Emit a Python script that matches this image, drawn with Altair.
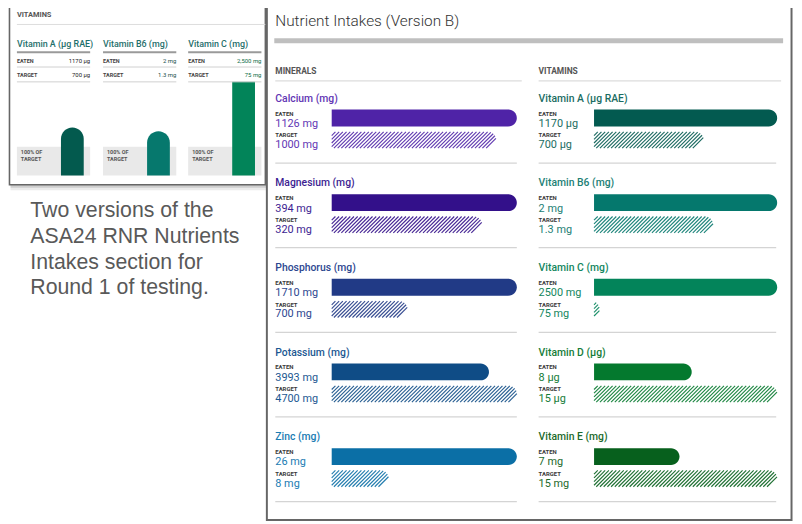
import math
import altair as alt
import pandas as pd

# ---------------- data ----------------
minerals = ["Calcium (mg)", "Magnesium (mg)", "Phosphorus (mg)", "Potassium (mg)", "Zinc (mg)"]
mineral_eaten = [1126, 394, 1710, 3993, 26]
mineral_target = [1000, 320, 700, 4700, 8]
mineral_units = ["mg", "mg", "mg", "mg", "mg"]

vitamins = ["Vitamin A (µg RAE)", "Vitamin B6 (mg)", "Vitamin C (mg)", "Vitamin D (µg)", "Vitamin E (mg)"]
vitamin_eaten = [1170, 2, 2500, 8, 7]
vitamin_target = [700, 1.3, 75, 15, 15]
vitamin_units = ["µg", "mg", "mg", "µg", "mg"]

# Version A inset (first three vitamins)
a_names = ["Vitamin A (µg RAE)", "Vitamin B6 (mg)", "Vitamin C (mg)"]
a_eaten = [1170, 2, 2500]
a_target = [700, 1.3, 75]
a_eaten_labels = ["1170 µg", "2 mg", "2,500 mg"]
a_target_labels = ["700 µg", "1.3 mg", "75 mg"]

caption_lines = ["Two versions of the", "ASA24 RNR Nutrients", "Intakes section for", "Round 1 of testing."]
panel_title = "Nutrient Intakes (Version B)"
section_titles = ["MINERALS", "VITAMINS"]

# ---------------- palettes ----------------
mineral_colors = ["#4f23a7", "#33108a", "#213a86", "#0f4c86", "#0b6fa6"]
mineral_text = ["#6236b4", "#3d1e92", "#2c468f", "#1c5892", "#1a7cb3"]
vitamin_colors = ["#035a50", "#05786d", "#03845a", "#04792e", "#07601d"]
vitamin_text = ["#1a6c62", "#1c8075", "#13865e", "#147c38", "#1c6a2b"]
a_colors = ["#035a4e", "#06786d", "#028459"]
a_value_colors = ["#222222", "#174f4a", "#0c6d47"]

# ---------------- layout (reference pixel space) ----------------
XS = alt.Scale(domain=[8, 802], nice=False, zero=False)
YS = alt.Scale(domain=[8, 524], nice=False, zero=False, reverse=True)
BX = 3    # horizontal offset of the Version B panel
BY = -1   # vertical offset of the Version B content

texts, rects, rules = [], [], []


def T(x, y, s, size, color, group):
    texts.append(dict(x=x, y=y, text=s, size=size, color=color, g=group))


def R(x, x2, y, y2, color, group="plain"):
    rects.append(dict(x=x, x2=x2, y=y, y2=y2, color=color, g=group))


def L(x, x2, y, y2, color, w):
    rules.append(dict(x=x, x2=x2, y=y, y2=y2, color=color, w=w))


# ---- Version A inset ----
A_LEFT, A_RIGHT, A_BOTTOM = 9.5, 268, 184
a_box = dict(x=A_LEFT, x2=A_RIGHT, y=0, y2=A_BOTTOM)
T(17, 14.5, "VITAMINS", 7.5, "#555555", "bold")
L(17, 268, 22, 22, "#dddddd", 1)
a_cols = [17, 104, 190]
a_colw = 74
PX_PER_100 = 29.0
BASE_A = 174.5
CLIP_A = 80
a_bars = []
for i, name in enumerate(a_names):
    cx = a_cols[i]
    T(cx, 44.5, name, 9, "#1f6f6b", "medium")
    L(cx, cx + a_colw, 50, 50, "#9a9a9a", 2)
    T(cx, 60.5, "EATEN", 5.5, "#444444", "bold")
    T(cx + a_colw, 60.5, a_eaten_labels[i], 6, a_value_colors[i], "right")
    L(cx, cx + a_colw, 65, 65, "#cfcfcf", 1)
    T(cx, 75, "TARGET", 5.5, "#444444", "bold")
    T(cx + a_colw, 75, a_target_labels[i], 6, a_value_colors[i], "right")
    L(cx, cx + a_colw, 80, 80, "#cfcfcf", 1)
    R(cx, cx + a_colw, 145.5, BASE_A, "#e9e9e9")
    T(cx + 4, 153, "100% OF", 5.5, "#555555", "bold")
    T(cx + 4, 160, "TARGET", 5.5, "#555555", "bold")
    top = BASE_A - PX_PER_100 * a_eaten[i] / a_target[i]
    clipped = top < CLIP_A
    a_bars.append(dict(x=cx + 44.5, x2=cx + 67.5, y=max(top, CLIP_A), y2=BASE_A,
                       color=a_colors[i], g="clip" if clipped else "round"))

# caption
for k, line in enumerate(caption_lines):
    T(30.5, 217 + 25.8 * k, line, 21.5, "#595959", "caption")

n_a_texts, n_a_rects, n_a_rules = len(texts), len(rects), len(rules)

# ---- Version B panel ----
b_box = dict(x=266.5 + BX, x2=799.5, y=0, y2=522.5)
T(275 + BX, 25 + BY, panel_title, 15.5, "#333333", "light")
R(274 + BX, 791, 37 + BY, 42 + BY, "#bfbfbf")
cols = [
    dict(tx=275 + BX, bx=332 + BX, bw=187, lx2=524 + BX, sx2=519 + BX, names=minerals, eaten=mineral_eaten,
         target=mineral_target, units=mineral_units, colors=mineral_colors, tcolors=mineral_text),
    dict(tx=541 + BX, bx=597 + BX, bw=185, lx2=789, sx2=784, names=vitamins, eaten=vitamin_eaten,
         target=vitamin_target, units=vitamin_units, colors=vitamin_colors, tcolors=vitamin_text),
]
ROW0, ROWSTEP = 97.5 + BY, 85.5
eaten_bars, hatch = [], []


def hatch_segments(x0, x1, ytop, ybot, color, step=3.75):
    h = ybot - ytop
    r = h / 2.0
    ccx, ccy = x1 - r, ytop + r
    s = -h
    while s < (x1 - x0):
        u0 = max(0.0, -s)
        u1 = min(h, x1 - x0 - s)
        # rounded right end
        a = x0 + s - ccx
        b = ybot - ccy
        A, B, C = 2.0, 2.0 * (a - b), a * a + b * b - r * r
        disc = B * B - 4 * A * C
        lim = -a
        if disc >= 0:
            uc0 = (-B - math.sqrt(disc)) / (2 * A)
            uc1 = (-B + math.sqrt(disc)) / (2 * A)
            if uc0 <= max(lim, u0):
                lim = max(lim, uc1)
        u1 = min(u1, lim)
        if u1 > u0 + 0.3:
            hatch.append(dict(x=x0 + s + u0, y=ybot - u0, x2=x0 + s + u1, y2=ybot - u1, color=color))
        s += step


for c, sec in zip(cols, section_titles):
    T(c["tx"], 73 + BY, sec, 8.5, "#555555", "bold")
    L(c["tx"], c["lx2"], 80 + BY, 80 + BY, "#dcdcdc", 1.2)
    for i, name in enumerate(c["names"]):
        t = ROW0 + ROWSTEP * i
        e, g = c["eaten"][i], c["target"][i]
        m = max(e, g)
        T(c["tx"], t + 3.5, name, 10.5, c["tcolors"][i], "medium")
        T(c["tx"], t + 17.5, "EATEN", 6, "#3a3a3a", "bold")
        T(c["tx"], t + 29, f"{e:g} {c['units'][i]}", 11, c["tcolors"][i], "plain")
        T(c["tx"], t + 39.5, "TARGET", 6, "#3a3a3a", "bold")
        T(c["tx"], t + 50.5, f"{g:g} {c['units'][i]}", 11, c["tcolors"][i], "plain")
        eaten_bars.append(dict(x=c["bx"], x2=c["bx"] + c["bw"] * e / m, y=t + 11.5, y2=t + 28.5,
                               color=c["colors"][i]))
        hatch_segments(c["bx"], c["bx"] + c["bw"] * g / m, t + 34, t + 50.5, c["colors"][i])
        L(c["tx"], c["sx2"], t + 65.5, t + 65.5, "#d4d4d4", 1.2)

# ---------------- charts ----------------
def enc_rect(ch):
    return ch.encode(
        x=alt.X("x:Q", scale=XS, axis=None), x2="x2:Q",
        y=alt.Y("y:Q", scale=YS, axis=None), y2="y2:Q",
        color=alt.Color("color:N", scale=None, legend=None),
    )


def text_layer(df, font="Roboto", weight="normal", align="left"):
    return alt.Chart(df).mark_text(font=font, fontWeight=weight, align=align, baseline="alphabetic").encode(
        x=alt.X("x:Q", scale=XS, axis=None),
        y=alt.Y("y:Q", scale=YS, axis=None),
        text="text:N",
        size=alt.Size("size:Q", scale=None, legend=None),
        color=alt.Color("color:N", scale=None, legend=None),
    )


tdf = pd.DataFrame(texts)
tdf["panel"] = ["A"] * n_a_texts + ["B"] * (len(texts) - n_a_texts)
rdf = pd.DataFrame(rects)
rdf["panel"] = ["A"] * n_a_rects + ["B"] * (len(rects) - n_a_rects)
ldf = pd.DataFrame(rules)
ldf["panel"] = ["A"] * n_a_rules + ["B"] * (len(rules) - n_a_rules)
adf = pd.DataFrame(a_bars)
edf = pd.DataFrame(eaten_bars)
hdf = pd.DataFrame(hatch)

shadowA = pd.DataFrame([
    dict(x=A_LEFT + 1, x2=A_RIGHT + 2, y=A_BOTTOM, y2=A_BOTTOM + 5.5, color="#000000", o=0.08),
    dict(x=A_LEFT + 1, x2=A_RIGHT + 2, y=A_BOTTOM, y2=A_BOTTOM + 3, color="#000000", o=0.12),
    dict(x=b_box["x"] - 4, x2=b_box["x"], y=0, y2=A_BOTTOM, color="#000000", o=0.10),
])


def box_layer(box, sw):
    return alt.Chart(pd.DataFrame([box])).mark_rect(fill="white", stroke="#666666", strokeWidth=sw).encode(
        x=alt.X("x:Q", scale=XS, axis=None), x2="x2:Q",
        y=alt.Y("y:Q", scale=YS, axis=None), y2="y2:Q",
    )


def rule_layer(df):
    return alt.Chart(df).mark_rule().encode(
        x=alt.X("x:Q", scale=XS, axis=None), x2="x2:Q",
        y=alt.Y("y:Q", scale=YS, axis=None), y2="y2:Q",
        color=alt.Color("color:N", scale=None, legend=None),
        strokeWidth=alt.StrokeWidth("w:Q", scale=None, legend=None),
    )


def sel(df, panel, g=None):
    out = df[df.panel == panel]
    if g is not None:
        out = out[out.g == g]
    return out.drop(columns=["panel"])


layers = [
    alt.Chart(shadowA).mark_rect().encode(
        x=alt.X("x:Q", scale=XS, axis=None), x2="x2:Q",
        y=alt.Y("y:Q", scale=YS, axis=None), y2="y2:Q",
        color=alt.Color("color:N", scale=None, legend=None),
        opacity=alt.Opacity("o:Q", scale=None, legend=None),
    ),
    box_layer(a_box, 1.6),
    enc_rect(alt.Chart(sel(rdf, "A")).mark_rect()),
    enc_rect(alt.Chart(adf).transform_filter("datum.g == 'round'").mark_rect(
        cornerRadiusTopLeft=11.5, cornerRadiusTopRight=11.5)),
    enc_rect(alt.Chart(adf).transform_filter("datum.g == 'clip'").mark_rect()),
    rule_layer(sel(ldf, "A")),
    text_layer(sel(tdf, "A", "bold"), weight="bold"),
    text_layer(sel(tdf, "A", "medium"), weight=500),
    text_layer(sel(tdf, "A", "right"), align="right"),
    text_layer(sel(tdf, "A", "caption"), font="Liberation Sans"),
    box_layer(b_box, 2),
    enc_rect(alt.Chart(sel(rdf, "B")).mark_rect()),
    rule_layer(sel(ldf, "B")),
    enc_rect(alt.Chart(edf).mark_rect(cornerRadiusTopRight=8.5, cornerRadiusBottomRight=8.5)),
    alt.Chart(hdf).mark_rule(strokeWidth=1.15, opacity=0.9).encode(
        x=alt.X("x:Q", scale=XS, axis=None), x2="x2:Q",
        y=alt.Y("y:Q", scale=YS, axis=None), y2="y2:Q",
        color=alt.Color("color:N", scale=None, legend=None),
    ),
    text_layer(sel(tdf, "B", "light"), weight=300),
    text_layer(sel(tdf, "B", "bold"), weight="bold"),
    text_layer(sel(tdf, "B", "medium"), weight=500),
    text_layer(sel(tdf, "B", "plain")),
]

chart = alt.layer(*layers).properties(
    width=794, height=516, autosize="none", padding=0, background="white"
).configure_view(stroke=None)

chart.save("out.html", embed_options={"renderer": "svg", "actions": False})
